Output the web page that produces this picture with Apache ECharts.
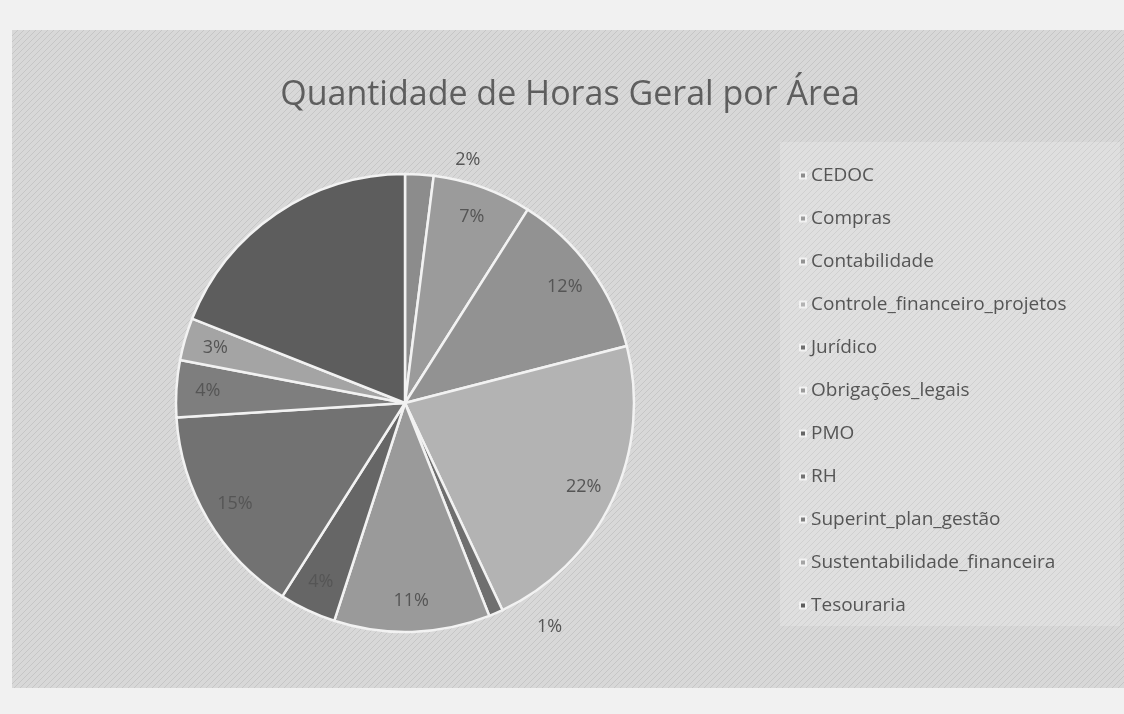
<!DOCTYPE html>
<html style="height: 100%">
<head>
    <meta charset="utf-8">
</head>
<body style="height: 100%; margin: 0; background: #eeeeee">
<div id="container" style="width: 1124px; height: 714px"></div>
<script type="text/javascript" src="https://cdn.jsdelivr.net/npm/echarts@6/dist/echarts.min.js"></script>
<script type="text/javascript">
var areas = ['CEDOC', 'Compras', 'Contabilidade', 'Controle_financeiro_projetos', 'Jurídico',
    'Obrigações_legais', 'PMO', 'RH', 'Superint_plan_gestão', 'Sustentabilidade_financeira', 'Tesouraria'];
var shares = [2, 7, 12, 22, 1, 11, 4, 15, 4, 3, 19];
var grays = ['#8c8c8c', '#9b9b9b', '#929292', '#b3b3b3', '#6f6f6f',
    '#9a9a9a', '#666666', '#727272', '#7e7e7e', '#a4a4a4', '#5d5d5d'];
// small labels sit outside the pie, Tesouraria has none in the print
var outsideLabels = ['CEDOC', 'Jurídico'];
var hiddenLabels = ['Tesouraria'];

// diagonal hatch like the printed paper
var hatch = document.createElement('canvas');
hatch.width = 6; hatch.height = 6;
var hc = hatch.getContext('2d');
hc.fillStyle = '#d8d8d8';
hc.fillRect(0, 0, 6, 6);
hc.strokeStyle = '#c6c6c6';
hc.lineWidth = 1;
hc.beginPath();
hc.moveTo(0, 6); hc.lineTo(6, 0);
hc.moveTo(-3, 3); hc.lineTo(3, -3);
hc.moveTo(3, 9); hc.lineTo(9, 3);
hc.stroke();

var pieData = [];
var labelData = [];
for (var i = 0; i < areas.length; i++) {
    pieData.push({
        name: areas[i],
        value: shares[i],
        itemStyle: { color: grays[i] }
    });
    // same values again on a transparent ring, so the % labels sit further out
    var lab = { name: areas[i], value: shares[i] };
    if (outsideLabels.indexOf(areas[i]) >= 0) {
        lab.label = { position: 'outside', distance: 6 };
    }
    if (hiddenLabels.indexOf(areas[i]) >= 0) {
        lab.label = { show: false };
    }
    labelData.push(lab);
}

var dom = document.getElementById("container");
var myChart = echarts.init(dom);

var option = {
    backgroundColor: '#f1f1f1',
    animation: false,
    graphic: [
        {
            type: 'rect',
            z: -10,
            shape: { x: 12, y: 30, width: 1112, height: 658 },
            style: { fill: { image: hatch, repeat: 'repeat' } }
        },
        {
            type: 'rect',
            z: -9,
            shape: { x: 780, y: 142, width: 340, height: 484 },
            style: { fill: 'rgba(255,255,255,0.18)' }
        }
    ],
    title: {
        text: 'Quantidade de Horas Geral por Área',
        left: 565,
        textAlign: 'center',
        top: 73,
        textStyle: {
            fontFamily: 'Open Sans',
            fontSize: 34,
            fontWeight: 'normal',
            color: '#5e5e5e'
        }
    },
    legend: {
        orient: 'vertical',
        left: 794,
        top: 161,
        itemGap: 24,
        itemWidth: 6,
        itemHeight: 6,
        icon: 'rect',
        textStyle: {
            fontFamily: 'Open Sans',
            fontSize: 19,
            color: '#555'
        },
        data: areas
    },
    series: [
        {
            type: 'pie',
            center: [405, 403],
            radius: 229,
            startAngle: 90,
            clockwise: true,
            data: pieData,
            itemStyle: {
                borderColor: '#f2f2f2',
                borderWidth: 2.5
            },
            label: { show: false },
            labelLine: { show: false },
            emphasis: { disabled: true }
        },
        {
            type: 'pie',
            center: [405, 403],
            radius: [160, 229],
            startAngle: 90,
            clockwise: true,
            silent: true,
            legendHoverLink: false,
            data: labelData,
            itemStyle: { color: 'rgba(0,0,0,0)', borderWidth: 0 },
            label: {
                show: true,
                position: 'inside',
                formatter: '{d}%',
                fontFamily: 'Open Sans',
                fontSize: 18,
                color: '#555'
            },
            labelLine: { show: false },
            emphasis: { disabled: true }
        }
    ]
};

myChart.setOption(option);
</script>
</body>
</html>
